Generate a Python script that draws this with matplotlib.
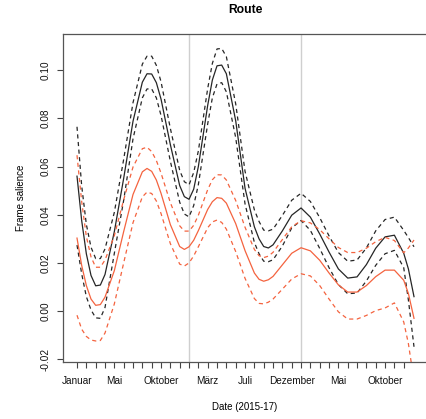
import matplotlib
matplotlib.use('Agg')
import matplotlib.pyplot as plt

plt.rcParams['font.family'] = ['Liberation Sans', 'DejaVu Sans']

# months since January 2015
months = [0, 0.5, 1, 1.5, 2, 2.5, 3, 4, 5, 6, 7, 7.5, 8, 8.5, 9, 10, 11, 11.5, 12, 12.5,
          13, 14, 14.5, 15, 15.5, 16, 17, 18, 19, 19.5, 20, 20.5, 21, 22, 23, 24, 25, 26,
          27, 28, 29, 30, 31, 32, 33, 34, 35, 35.5, 36.1]

black_fit = [0.056, 0.0376, 0.0238, 0.0148, 0.0105, 0.0108, 0.0152, 0.033, 0.0551, 0.0788,
             0.095, 0.0985, 0.0984, 0.0948, 0.088, 0.0691, 0.0521, 0.0475, 0.0464, 0.0506,
             0.06, 0.0854, 0.0959, 0.1018, 0.1021, 0.0985, 0.079, 0.051, 0.035, 0.030,
             0.0268, 0.0262, 0.0275, 0.0333, 0.0398, 0.0428, 0.039, 0.032,
             0.0245, 0.0175, 0.0137, 0.0142, 0.0193, 0.0261, 0.0308, 0.0315, 0.024, 0.0175, 0.006]
black_hi = [0.0765, 0.052, 0.036, 0.0265, 0.0218, 0.0218, 0.0258, 0.041, 0.063, 0.0865,
            0.1025, 0.1058, 0.1058, 0.102, 0.0952, 0.0758, 0.0584, 0.0537, 0.0524, 0.0575,
            0.0665, 0.0924, 0.1028, 0.1088, 0.109, 0.1056, 0.086, 0.058, 0.042, 0.0372,
            0.0336, 0.0333, 0.034, 0.0397, 0.046, 0.0489, 0.0455, 0.0388,
            0.0312, 0.0243, 0.0207, 0.0212, 0.0262, 0.0333, 0.038, 0.039, 0.0335, 0.0305, 0.0267]
black_lo = [0.0274, 0.0155, 0.006, 0.0005, -0.0028, -0.003, 0.0015, 0.024, 0.046, 0.0715,
            0.0885, 0.0922, 0.0922, 0.0885, 0.0812, 0.0622, 0.0452, 0.0403, 0.0391, 0.0438,
            0.0525, 0.0777, 0.0885, 0.0943, 0.0948, 0.091, 0.072, 0.0445, 0.0285, 0.0238,
            0.0207, 0.0205, 0.0213, 0.027, 0.0345, 0.0376, 0.0335, 0.026,
            0.018, 0.011, 0.0072, 0.0075, 0.0125, 0.019, 0.0238, 0.0252, 0.018, 0.0046, -0.0148]

red_fit = [0.0303, 0.019, 0.0106, 0.005, 0.0024, 0.0027, 0.0058, 0.0168, 0.033, 0.0484,
           0.0578, 0.0592, 0.058, 0.0544, 0.0489, 0.0359, 0.0268, 0.0256, 0.0267, 0.0294,
           0.0334, 0.0422, 0.0454, 0.0471, 0.0468, 0.0448, 0.0363, 0.0251, 0.0158, 0.0132,
           0.0124, 0.013, 0.0144, 0.0192, 0.024, 0.0263, 0.025, 0.0211,
           0.0158, 0.0109, 0.0079, 0.0079, 0.0106, 0.0143, 0.017, 0.017, 0.0128, 0.0073, -0.003]
red_hi = [0.0647, 0.0455, 0.031, 0.0225, 0.0182, 0.0182, 0.0212, 0.0313, 0.0462, 0.0598,
          0.0674, 0.068, 0.0662, 0.0625, 0.0573, 0.045, 0.0354, 0.0332, 0.0332, 0.0356,
          0.0398, 0.0504, 0.0545, 0.0566, 0.0565, 0.0544, 0.0459, 0.0348, 0.0256, 0.023,
          0.0222, 0.0228, 0.0244, 0.0297, 0.035, 0.0375, 0.0366, 0.0338,
          0.03, 0.0264, 0.0243, 0.0243, 0.0261, 0.0288, 0.0306, 0.0293, 0.0242, 0.0262, 0.0295]
red_lo = [-0.0017, -0.0075, -0.0105, -0.012, -0.0124, -0.0122, -0.0091, 0.003, 0.02, 0.0367,
          0.0474, 0.0494, 0.0488, 0.0457, 0.0405, 0.028, 0.0195, 0.0187, 0.02, 0.0229,
          0.0267, 0.0346, 0.037, 0.0378, 0.0368, 0.034, 0.0247, 0.0136, 0.0052, 0.0032,
          0.003, 0.0037, 0.005, 0.0091, 0.0133, 0.0155, 0.0146, 0.0106,
          0.005, -0.0003, -0.0033, -0.0033, -0.0018, 0.0002, 0.0013, 0.0034, -0.0045, -0.0135, -0.029]

tick_months = list(range(36))
label_months = {0: 'Januar', 4: 'Mai', 9: 'Oktober', 14: 'März', 18: 'Juli',
                23: 'Dezember', 28: 'Mai', 33: 'Oktober'}
year_marks = [12, 24]

black = '#262626'
red = '#F4633F'

fig = plt.figure(figsize=(4.26, 4.19), dpi=100)
ax = fig.add_axes([63 / 426, (419 - 361.7) / 419, (428 - 63) / 426, (361.7 - 34) / 419])

for m in year_marks:
    ax.axvline(m, color='#cfcfcf', lw=1.0, zorder=0)

# fitted curve + confidence band for each group
ax.plot(months, black_fit, color=black, lw=0.9)
ax.plot(months, black_hi, color=black, lw=0.9, dashes=(3.3, 2.8))
ax.plot(months, black_lo, color=black, lw=0.9, dashes=(3.3, 2.8))
ax.plot(months, red_fit, color=red, lw=0.9)
ax.plot(months, red_hi, color=red, lw=0.9, dashes=(3.3, 2.8))
ax.plot(months, red_lo, color=red, lw=0.9, dashes=(3.3, 2.8))

ax.set_xlim(-1.5, 37.6)
ax.set_ylim(-0.021, 0.115)

ax.set_xticks(tick_months)
ax.set_xticklabels([label_months.get(m, '') for m in tick_months])
ax.set_yticks([-0.02, 0.0, 0.02, 0.04, 0.06, 0.08, 0.10])
ax.set_yticklabels(['-0.02', '0.00', '0.02', '0.04', '0.06', '0.08', '0.10'],
                   rotation=90, va='center')
ax.tick_params(axis='both', direction='out', length=4, width=0.8, color='#444444',
               labelsize=7.2, labelcolor='#111111')
ax.tick_params(axis='x', pad=6)
ax.tick_params(axis='y', pad=5)
for s in ax.spines.values():
    s.set_color('#555555')
    s.set_linewidth(0.9)

fig.text(245 / 426, 1 - 10 / 419, 'Route', ha='center', va='center',
         fontsize=8.7, fontweight='bold')
fig.text(245 / 426, 1 - 407 / 419, 'Date (2015-17)', ha='center', va='center', fontsize=7)
fig.text(21 / 426, 1 - 198 / 419, 'Frame salience', ha='center', va='center',
         rotation=90, fontsize=7)

fig.savefig('out.png', dpi=100)
